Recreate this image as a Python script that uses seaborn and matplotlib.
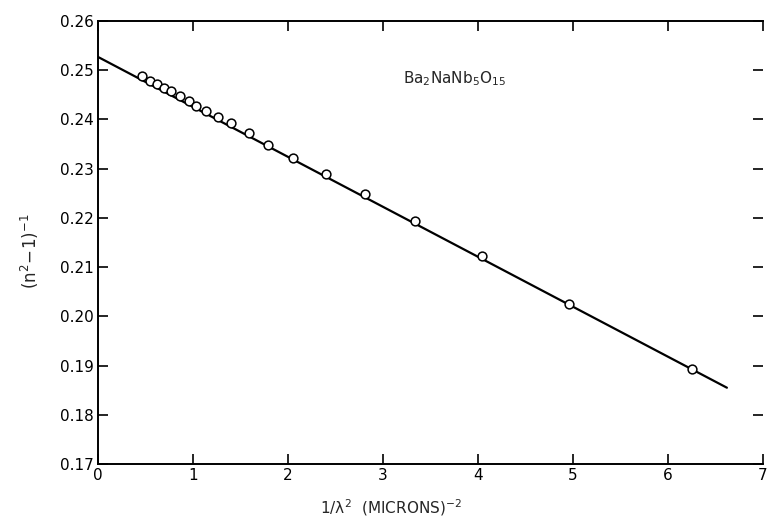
import pandas as pd
import seaborn as sns
import matplotlib
matplotlib.use("Agg")
import matplotlib.pyplot as plt
from matplotlib.ticker import FormatStrFormatter

inv_lambda_sq = [0.465, 0.548, 0.621, 0.690, 0.767, 0.860, 0.954, 1.033, 1.137, 1.259,
                 1.402, 1.592, 1.790, 2.050, 2.396, 2.807, 3.333, 4.037, 4.960, 6.257]
inv_n_term = [0.2488, 0.2479, 0.2471, 0.2464, 0.2457, 0.2448, 0.2437, 0.2427, 0.2418, 0.2405,
              0.2392, 0.2372, 0.2349, 0.2322, 0.2289, 0.2248, 0.2193, 0.2122, 0.2025, 0.1894]

# straight fit line end points
fit_x = [0.0, 6.62]
fit_y = [0.2527, 0.1855]

pts = pd.DataFrame({"x": inv_lambda_sq, "y": inv_n_term})
fit = pd.DataFrame({"x": fit_x, "y": fit_y})

sns.set_theme(style="ticks")
plt.rcParams.update({
    "font.family": ["DejaVu Sans"],
    "font.size": 11,
    "axes.linewidth": 1.4,
    "xtick.direction": "in",
    "ytick.direction": "in",
    "xtick.major.size": 7,
    "ytick.major.size": 7,
    "xtick.major.width": 1.2,
    "ytick.major.width": 1.2,
})

fig = plt.figure(figsize=(7.68, 5.21), dpi=100)
ax = fig.add_axes([98 / 768, 1 - 464 / 521, 665 / 768, 443 / 521])

sns.lineplot(data=fit, x="x", y="y", ax=ax, color="black", linewidth=1.6)
sns.scatterplot(data=pts, x="x", y="y", ax=ax, marker="o", s=40,
                facecolor="white", edgecolor="black", linewidth=1.1, zorder=3)

ax.set_xlim(0, 7)
ax.set_ylim(0.17, 0.26)
ax.set_xticks(range(0, 8))
ax.set_yticks([0.17 + 0.01 * i for i in range(10)])
ax.yaxis.set_major_formatter(FormatStrFormatter("%.2f"))
ax.tick_params(top=True, right=True, labelsize=11, colors="black", pad=3)
for s in ax.spines.values():
    s.set_color("black")
ax.spines["right"].set_visible(False)

ax.set_xlabel(r"$\mathregular{1/\lambda^2\ \ (MICRONS)^{-2}}$", fontsize=11)
ax.xaxis.set_label_coords(0.44, -0.075)
ax.set_ylabel(r"$\mathregular{(n^2\!-\!1)^{-1}}$", fontsize=12)
ax.yaxis.set_label_coords(-0.085, 0.48)

ax.text(3.75, 0.2482, r"$\mathregular{Ba_2NaNb_5O_{15}}$", ha="center", va="center", fontsize=11)

fig.savefig("out.png", dpi=100)
